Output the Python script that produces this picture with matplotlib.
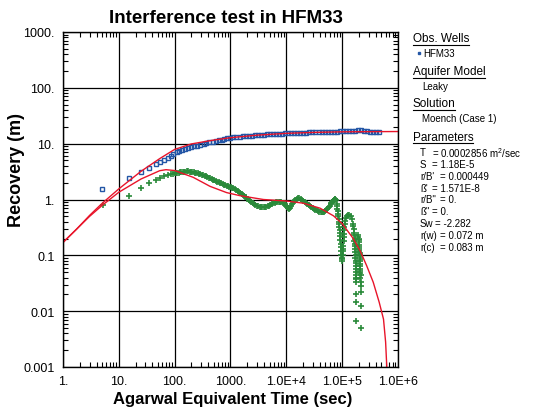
import matplotlib
matplotlib.use('Agg')
import matplotlib.pyplot as plt
from matplotlib.lines import Line2D
from matplotlib.ticker import LogLocator, NullFormatter

plt.rcParams['font.family'] = ['Liberation Sans', 'DejaVu Sans']
plt.rcParams['mathtext.fontset'] = 'custom'
plt.rcParams['mathtext.rm'] = 'Liberation Sans'

# observed recovery, HFM33
rec_t = [5.06, 15.2, 25, 34.7, 45.7, 55, 65, 75, 85, 95, 108, 122, 138, 155, 175,
         200, 225, 255, 290, 330, 370, 420, 480, 540, 610, 690, 780, 880, 1000,
         1130, 1280, 1450, 1650, 1870, 2120, 2400, 2720, 3080, 3500, 3960, 4490,
         5090, 5770, 6540, 7410, 8400, 9520, 1.08e4, 1.22e4, 1.38e4, 1.57e4,
         1.78e4, 2.01e4, 2.28e4, 2.59e4, 2.93e4, 3.32e4, 3.77e4, 4.27e4, 4.84e4,
         5.48e4, 6.21e4, 7.04e4, 7.98e4, 9.05e4, 1.03e5, 1.16e5, 1.32e5, 1.49e5,
         1.69e5, 1.92e5, 2.17e5, 2.46e5, 2.79e5, 3.17e5, 3.59e5, 4.07e5, 4.5e5]
rec_s = [1.52, 2.46, 3.15, 3.7, 4.27, 4.75, 5.16, 5.6, 6.0, 6.5, 7.0, 7.4, 7.8, 8.1,
         8.4, 8.7, 9.0, 9.2, 9.5, 9.8, 10.1, 10.5, 10.8, 11.1, 11.5, 11.8, 12.1,
         12.4, 12.7, 12.9, 13.1, 13.3, 13.45, 13.6, 13.75, 13.9, 14.05, 14.2,
         14.35, 14.5, 14.6, 14.7, 14.85, 14.95, 15.1, 15.2, 15.3, 15.35, 15.4,
         15.45, 15.5, 15.6, 15.7, 15.8, 15.9, 16.0, 16.1, 16.2, 16.3, 16.35, 16.4,
         16.45, 16.5, 16.5, 16.55, 16.6, 16.6, 16.65, 16.7, 17.0, 17.4, 17.3,
         16.8, 16.6, 16.5, 16.5, 16.4, 16.4]

# observed derivative (time, derivative)
der = [(5.2, 0.80), (15.2, 1.15), (25, 1.63), (34.7, 1.95), (45.7, 2.24),
       (55, 2.46), (65, 2.6), (75, 2.71), (85, 2.82), (95, 2.9), (100, 2.95),
       (105, 2.97), (112, 3.0), (118, 3.04), (125, 3.08), (132, 3.1), (140, 3.12),
       (148, 3.15), (156, 3.17), (165, 3.18), (175, 3.2), (185, 3.16), (196, 3.13),
       (207, 3.1), (220, 3.06), (232, 3.02), (246, 2.98), (260, 2.93), (275, 2.88),
       (290, 2.83), (307, 2.78), (325, 2.72), (345, 2.66), (365, 2.6), (387, 2.53),
       (410, 2.47), (435, 2.4), (460, 2.33), (487, 2.26), (515, 2.2), (545, 2.15),
       (575, 2.1), (610, 2.05), (645, 2.0), (680, 1.95), (720, 1.9), (765, 1.85),
       (810, 1.8), (855, 1.76), (905, 1.72), (955, 1.68), (1010, 1.65),
       (1070, 1.62), (1130, 1.58), (1200, 1.53), (1270, 1.48), (1345, 1.43),
       (1420, 1.38), (1505, 1.33), (1590, 1.27), (1685, 1.21), (1780, 1.15),
       (1890, 1.09), (2000, 1.03), (2110, 0.99), (2230, 0.95), (2360, 0.91),
       (2500, 0.87), (2650, 0.83), (2800, 0.8), (2960, 0.78), (3130, 0.76),
       (3310, 0.74), (3500, 0.73), (3710, 0.72), (3920, 0.72), (4150, 0.73),
       (4390, 0.74), (4650, 0.76), (4910, 0.78), (5200, 0.8), (5500, 0.83),
       (5820, 0.85), (6150, 0.87), (6520, 0.89), (6890, 0.9), (7300, 0.9),
       (7700, 0.91), (8150, 0.9), (8600, 0.88), (9050, 0.86), (9500, 0.83),
       (9950, 0.78), (1.04e4, 0.72), (1.08e4, 0.7), (1.12e4, 0.68),
       (1.16e4, 0.7), (1.2e4, 0.76), (1.25e4, 0.82), (1.3e4, 0.88),
       (1.37e4, 0.94), (1.45e4, 0.98), (1.54e4, 1.03), (1.64e4, 1.07),
       (1.72e4, 1.05), (1.8e4, 1.02), (1.9e4, 0.98), (2.0e4, 0.95),
       (2.12e4, 0.92), (2.25e4, 0.88), (2.37e4, 0.84), (2.5e4, 0.8),
       (2.65e4, 0.76), (2.8e4, 0.72), (2.95e4, 0.7), (3.1e4, 0.68),
       (3.3e4, 0.66), (3.5e4, 0.65), (3.7e4, 0.62), (3.9e4, 0.6), (4.1e4, 0.59),
       (4.3e4, 0.59), (4.55e4, 0.6), (4.8e4, 0.6), (5.0e4, 0.62), (5.2e4, 0.64),
       (5.45e4, 0.68), (5.7e4, 0.72), (5.95e4, 0.78), (6.2e4, 0.83),
       (6.4e4, 0.87), (6.6e4, 0.9), (6.8e4, 0.93), (7.0e4, 0.96), (7.2e4, 0.99),
       (7.4e4, 1.02), (7.55e4, 1.02), (7.7e4, 1.0), (8.0e4, 0.82), (8.1e4, 0.75),
       (8.2e4, 0.68), (8.3e4, 0.62), (8.4e4, 0.55), (8.5e4, 0.5), (8.6e4, 0.45),
       (8.7e4, 0.4), (8.8e4, 0.36), (8.9e4, 0.32), (9.0e4, 0.28), (9.1e4, 0.25),
       (9.2e4, 0.22), (9.3e4, 0.19), (9.4e4, 0.16), (9.5e4, 0.14), (9.6e4, 0.12),
       (9.7e4, 0.1), (9.8e4, 0.09), (1.0e5, 0.078), (1.01e5, 0.085),
       (1.02e5, 0.1), (1.03e5, 0.12), (1.04e5, 0.13), (1.05e5, 0.15),
       (1.06e5, 0.18), (1.07e5, 0.21), (1.08e5, 0.24), (1.09e5, 0.28),
       (1.1e5, 0.32), (1.11e5, 0.36), (1.13e5, 0.41), (1.15e5, 0.46),
       (1.2e5, 0.51), (1.27e5, 0.53), (1.35e5, 0.52), (1.43e5, 0.5),
       (1.5e5, 0.45), (1.55e5, 0.36), (1.58e5, 0.33), (1.6e5, 0.3),
       (1.63e5, 0.23), (1.65e5, 0.25), (1.66e5, 0.18), (1.68e5, 0.2),
       (1.69e5, 0.145), (1.7e5, 0.16), (1.71e5, 0.115), (1.72e5, 0.13),
       (1.73e5, 0.09), (1.74e5, 0.1), (1.75e5, 0.072), (1.76e5, 0.08),
       (1.76e5, 0.058), (1.77e5, 0.065), (1.77e5, 0.045), (1.78e5, 0.05),
       (1.78e5, 0.037), (1.8e5, 0.04), (1.79e5, 0.033), (1.78e5, 0.02),
       (1.77e5, 0.0145), (1.78e5, 0.0066),
       (1.95e5, 0.23), (1.96e5, 0.215), (1.97e5, 0.2), (1.98e5, 0.185),
       (2.0e5, 0.17), (2.01e5, 0.155), (2.02e5, 0.14), (2.03e5, 0.13),
       (2.04e5, 0.12), (2.05e5, 0.11), (2.05e5, 0.1), (2.07e5, 0.092),
       (2.06e5, 0.085), (2.09e5, 0.078), (2.08e5, 0.07), (2.11e5, 0.064),
       (2.1e5, 0.058), (2.12e5, 0.053), (2.1e5, 0.048), (2.14e5, 0.044),
       (2.12e5, 0.04), (2.15e5, 0.033), (2.18e5, 0.028), (2.17e5, 0.022),
       (2.19e5, 0.0125), (2.18e5, 0.005)]
der_t, der_s = zip(*der)

# Moench (Case 1) fitted curves
fit_t = [1, 1.76, 3, 5, 10, 25, 54, 100, 200, 500, 1000, 3000, 1e4, 3e4, 1e5, 1e6]
fit_s = [0.17, 0.296, 0.52, 0.85, 1.55, 3.2, 5.4, 7.9, 9.9, 11.6, 12.8, 14.2,
         15.3, 15.9, 16.3, 16.5]
fitd_t = [1, 1.76, 3, 5, 10, 25, 54, 70, 100, 214, 430, 850, 1480, 3880, 1e4,
          2e4, 4e4, 7e4, 1e5, 1.58e5, 2.1e5, 2.75e5, 3.6e5, 4.6e5, 5.5e5, 6.0e5,
          6.3e5, 6.5e5]
fitd_s = [0.17, 0.296, 0.5, 0.78, 1.35, 2.33, 3.28, 3.42, 3.3, 2.5, 1.72, 1.33,
          1.17, 1.0, 0.94, 0.86, 0.7, 0.51, 0.37, 0.2, 0.12, 0.065, 0.033,
          0.0145, 0.0072, 0.0028, 0.001, 0.0005]

xticks = [1, 10, 100, 1000, 1e4, 1e5, 1e6]
xlabels = ['1.', '10.', '100.', '1000.', '1.0E+4', '1.0E+5', '1.0E+6']
yticks = [1e-3, 1e-2, 0.1, 1, 10, 100, 1000]
ylabels = ['0.001', '0.01', '0.1', '1.', '10.', '100.', '1000.']

params = [("T", "= 0.0002856 m$^2$/sec", 432), ("S", "= 1.18E-5", 432),
          ("r/B'", "= 0.000449", 440), ("ß'", "= 1.571E-8", 432),
          ('r/B"', "= 0.", 440), ('ß"', "= 0.", 432), ("Sw", "= -2.282", 435),
          ("r(w)", "= 0.072 m", 440), ("r(c)", "= 0.083 m", 440)]

W, H = 535, 414
fig = plt.figure(figsize=(W / 100, H / 100), dpi=100)
ax = fig.add_axes([63 / W, 1 - 368 / H, (398 - 63) / W, (368 - 33) / H])
ax.set_xscale('log')
ax.set_yscale('log')
ax.set_xlim(1, 1e6)
ax.set_ylim(1e-3, 1e3)
ax.set_axisbelow(True)
ax.grid(True, which='major', color='black', lw=0.9)

ax.plot(rec_t, rec_s, ls='none', marker='s', ms=3.3, mfc='none',
        mec='#2356a6', mew=1.0)
ax.plot(der_t, der_s, ls='none', marker='+', ms=4.8, mew=1.2, color='#2a8a3a')
ax.plot(fit_t, fit_s, color='#e8142a', lw=1.0)
ax.plot(fitd_t, fitd_s, color='#e8142a', lw=1.0)

ax.set_xticks(xticks, labels=xlabels)
ax.set_yticks(yticks, labels=ylabels)
ax.xaxis.set_minor_locator(LogLocator(base=10, subs=range(2, 10), numticks=20))
ax.yaxis.set_minor_locator(LogLocator(base=10, subs=range(2, 10), numticks=20))
ax.xaxis.set_minor_formatter(NullFormatter())
ax.yaxis.set_minor_formatter(NullFormatter())
ax.tick_params(which='major', length=0, pad=6, labelsize=9)
ax.tick_params(which='minor', direction='in', length=3.5, width=0.8,
               top=True, right=True)
for sp in ax.spines.values():
    sp.set_linewidth(1.0)

fig.text(226 / W, 1 - 18.5 / H, 'Interference test in HFM33', fontsize=13.5,
         fontweight='bold', ha='center', va='center')
fig.text(232.5 / W, 1 - 400 / H, 'Agarwal Equivalent Time (sec)', fontsize=12,
         fontweight='bold', ha='center', va='center')
fig.text(16.7 / W, 1 - 170 / H, 'Recovery (m)', fontsize=13, fontweight='bold',
         rotation=90, ha='center', va='center')

# side panel
def px(x, y):
    return x / W, 1 - y / H

headers = [('Obs. Wells', 39.3), ('Aquifer Model', 72.3), ('Solution', 104.3),
           ('Parameters', 137.7)]
fig.canvas.draw()
rend = fig.canvas.get_renderer()
for txt, yy in headers:
    t = fig.text(*px(412.7, yy), txt, fontsize=8.5, ha='left', va='center')
    bb = t.get_window_extent(renderer=rend)
    fig.add_artist(Line2D([bb.x0 / W, bb.x1 / W], [(H - yy - 6.5) / H] * 2,
                          color='black', lw=0.8, transform=fig.transFigure))

fig.add_artist(Line2D([418.5 / W], [1 - 54.3 / H], marker='s', ms=1.8,
                      color='#2356a6', transform=fig.transFigure))
fig.text(*px(423, 54.3), 'HFM33', fontsize=7, ha='left', va='center')
fig.text(*px(422.3, 86.7), 'Leaky', fontsize=7, ha='left', va='center')
fig.text(*px(422.3, 119.3), 'Moench (Case 1)', fontsize=7, ha='left', va='center')

for i, (lab, val, xeq) in enumerate(params):
    yy = 152.7 + i * 11.95
    fig.text(*px(420, yy), lab, fontsize=7, ha='left', va='center')
    fig.text(*px(xeq, yy), val, fontsize=7, ha='left', va='center')

fig.savefig('out.png', dpi=100)
